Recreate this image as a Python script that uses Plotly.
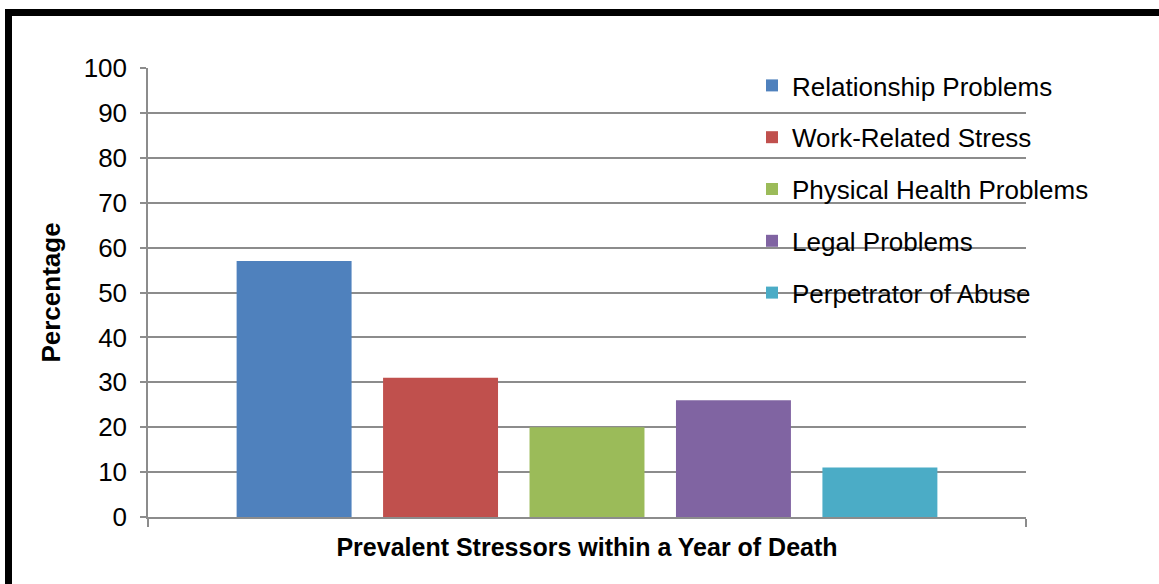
import plotly.graph_objects as go

# data
category = ["Prevalent Stressors within a Year of Death"]
stressors = [
    "Relationship Problems",
    "Work-Related Stress",
    "Physical Health Problems",
    "Legal Problems",
    "Perpetrator of Abuse",
]
percentages = [57, 31, 20, 26, 11]
colors = ["#4F81BD", "#C0504D", "#9BBB59", "#8064A2", "#4BACC6"]
y_ticks = list(range(0, 101, 10))

W, H = 1159, 584
margin = dict(l=148, r=133, t=68, b=67)
plot_w = W - margin["l"] - margin["r"]
plot_h = H - margin["t"] - margin["b"]


def px_to_paper(px, py):
    return (px - margin["l"]) / plot_w, (H - margin["b"] - py) / plot_h


FONT = "Liberation Sans, Arial, sans-serif"
GRID = "#8c8c8c"

fig = go.Figure()
for i, (name, val, col) in enumerate(zip(stressors, percentages, colors)):
    fig.add_trace(go.Bar(
        x=category,
        y=[val],
        name=name,
        marker=dict(color=col, line=dict(width=0)),
        legendgroup=f"g{i}",
    ))

# thick black frame, running off the right/bottom edge of the picture
x0, y0 = px_to_paper(8.5, 12.5)
x1, y1 = px_to_paper(W + 20, H + 20)
fig.add_shape(type="rect", xref="paper", yref="paper",
              x0=x0, y0=y1, x1=x1, y1=y0,
              line=dict(color="black", width=7), layer="above")

lx, ly = px_to_paper(752, 62)
fig.update_layout(
    width=W,
    height=H,
    margin=margin,
    paper_bgcolor="white",
    plot_bgcolor="white",
    barmode="group",
    bargap=0.166,
    bargroupgap=0.215,
    font=dict(family=FONT, size=26, color="black"),
    showlegend=True,
    legend=dict(
        x=lx, y=ly, xanchor="left", yanchor="top",
        font=dict(size=26, color="black"),
        tracegroupgap=15,
        bgcolor="rgba(0,0,0,0)",
    ),
    xaxis=dict(
        type="category",
        showticklabels=False,
        ticks="outside",
        tickson="boundaries",
        ticklen=8,
        tickwidth=1.5,
        tickcolor=GRID,
        showline=True,
        linecolor=GRID,
        linewidth=1.5,
        showgrid=False,
        title=dict(text="<b>Prevalent Stressors within a Year of Death</b>",
                   font=dict(size=25), standoff=21),
    ),
    yaxis=dict(
        range=[0, 100],
        tickvals=y_ticks,
        ticks="outside",
        ticklen=6,
        tickwidth=1.5,
        tickcolor=GRID,
        showline=True,
        linecolor=GRID,
        linewidth=1.5,
        showgrid=True,
        gridcolor=GRID,
        gridwidth=1.5,
        zeroline=False,
        ticklabelstandoff=8,
        tickfont=dict(size=26),
        title=dict(text="<b>Percentage</b>", font=dict(size=26), standoff=16),
    ),
)

# drop the browser's default page margin so the figure sits at (0, 0)
fig.write_html("out.html", config={"displayModeBar": False},
               post_script="document.body.style.margin='0';")
